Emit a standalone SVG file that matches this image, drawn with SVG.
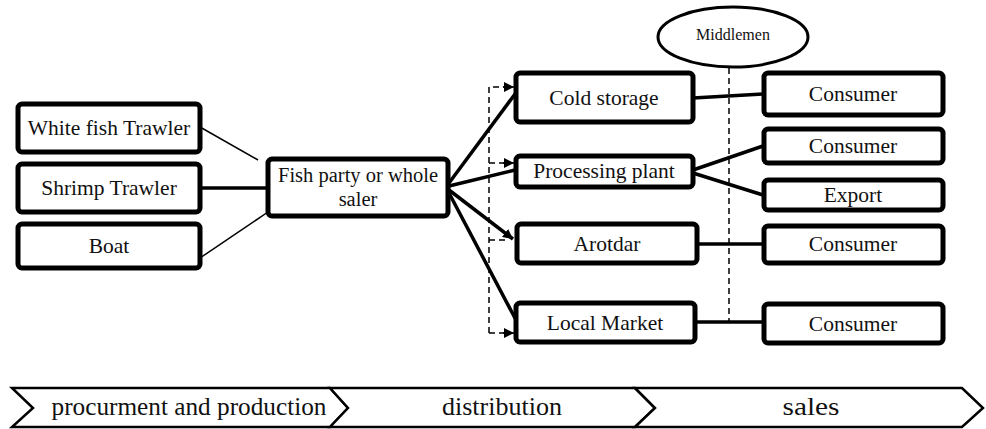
<svg xmlns="http://www.w3.org/2000/svg" width="986" height="429" viewBox="0 0 986 429">
<style>
.box{fill:#fff;stroke:#000;stroke-width:5;}
.t{font-family:"Liberation Serif","Times New Roman",serif;font-size:21.5px;fill:#111;text-anchor:middle;}
.thin{stroke:#000;stroke-width:1.5;fill:none;}
.thick{stroke:#000;stroke-width:3.5;fill:none;}
.dash{stroke:#000;stroke-width:1.5;fill:none;stroke-dasharray:6,4;}
.band{fill:#fff;stroke:#000;stroke-width:2.5;stroke-linejoin:miter;}
.bt{font-family:"Liberation Serif","Times New Roman",serif;font-size:25px;fill:#111;text-anchor:middle;}
</style>
<defs>
<marker id="ah" viewBox="0 0 10 10" refX="10" refY="5" markerWidth="10" markerHeight="10" markerUnits="userSpaceOnUse" orient="auto">
<path d="M0,0 L10,5 L0,10 z" fill="#000"/>
</marker>
</defs>
<rect width="986" height="429" fill="#fff"/>
<g id="connectors">
<line class="thin" x1="200" y1="127" x2="258" y2="160"/>
<line class="thick" x1="200" y1="188" x2="268" y2="188"/>
<line class="thin" x1="200" y1="258" x2="268" y2="212"/>
<line class="thick" x1="449" y1="183" x2="515" y2="94"/>
<line class="thick" x1="449" y1="186" x2="515" y2="170"/>
<line class="thick" x1="449" y1="190" x2="513" y2="239" marker-end="url(#ah)"/>
<line class="thick" x1="449" y1="193" x2="516" y2="320"/>
<path class="dash" d="M489 333 V87 H505"/>
<path class="dash" d="M489 163 H505"/>
<path class="dash" d="M489 240 H505"/>
<path class="dash" d="M489 333 H505"/>
<line x1="503" y1="87" x2="514" y2="87" stroke="#000" stroke-width="1.5" marker-end="url(#ah)"/>
<line x1="503" y1="163" x2="514" y2="163" stroke="#000" stroke-width="1.5" marker-end="url(#ah)"/>
<line x1="503" y1="333" x2="514" y2="333" stroke="#000" stroke-width="1.5" marker-end="url(#ah)"/>
<line class="dash" x1="729" y1="68" x2="729" y2="322"/>
<line class="thick" x1="693" y1="98" x2="763" y2="94"/>
<line class="thick" x1="693" y1="170" x2="763" y2="146"/>
<line class="thick" x1="693" y1="173" x2="763" y2="195"/>
<line class="thick" x1="697" y1="244" x2="763" y2="244"/>
<line class="thick" x1="695" y1="322" x2="763" y2="322"/>
</g>
<g id="white-fish-trawler"><rect class="box" x="18" y="104" width="182" height="48" rx="4"/><text class="t" x="109" y="135">White fish Trawler</text></g>
<g id="shrimp-trawler"><rect class="box" x="18" y="164" width="182" height="48" rx="4"/><text class="t" x="109" y="195">Shrimp Trawler</text></g>
<g id="boat"><rect class="box" x="18" y="224" width="182" height="44" rx="4"/><text class="t" x="109" y="253">Boat</text></g>
<g id="fish-party"><rect class="box" x="268" y="159" width="180" height="57" rx="4"/><text class="t" x="358" y="182" style="font-size:20.5px">Fish party or whole</text><text class="t" x="358" y="206" style="font-size:20.5px">saler</text></g>
<g id="middlemen"><ellipse cx="733" cy="37" rx="75" ry="30" fill="#fff" stroke="#000" stroke-width="3"/><text class="t" x="733" y="40" style="font-size:16px">Middlemen</text></g>
<g id="cold-storage"><rect class="box" x="516" y="73" width="177" height="49" rx="4"/><text class="t" x="604" y="105">Cold storage</text></g>
<g id="processing-plant"><rect class="box" x="516" y="156" width="177" height="31" rx="4"/><text class="t" x="604" y="178">Processing  plant</text></g>
<g id="arotdar"><rect class="box" x="517" y="224" width="180" height="39" rx="4"/><text class="t" x="607" y="251">Arotdar</text></g>
<g id="local-market"><rect class="box" x="516" y="303" width="179" height="39" rx="4"/><text class="t" x="605" y="330">Local Market</text></g>
<g id="consumer-1"><rect class="box" x="764" y="73" width="179" height="42" rx="4"/><text class="t" x="853" y="101">Consumer</text></g>
<g id="consumer-2"><rect class="box" x="764" y="129" width="179" height="34" rx="4"/><text class="t" x="853" y="153">Consumer</text></g>
<g id="export"><rect class="box" x="764" y="180" width="179" height="30" rx="4"/><text class="t" x="853" y="202">Export</text></g>
<g id="consumer-3"><rect class="box" x="764" y="226" width="179" height="37" rx="4"/><text class="t" x="853" y="251">Consumer</text></g>
<g id="consumer-4"><rect class="box" x="764" y="304" width="179" height="39" rx="4"/><text class="t" x="853" y="331">Consumer</text></g>
<g id="stages">
<path class="band" d="M12 388 H330 L348 408 L330 427 H12 L33 408 Z"/>
<path class="band" d="M330 388 H635 L655 408 L635 427 H330 L348 408 Z"/>
<path class="band" d="M635 388 H962 L983 408 L962 427 H635 L655 408 Z"/>
<text class="bt" x="189" y="415" textLength="275" lengthAdjust="spacingAndGlyphs">procurment and production</text>
<text class="bt" x="502" y="415" textLength="120" lengthAdjust="spacingAndGlyphs">distribution</text>
<text class="bt" x="811" y="415" textLength="57" lengthAdjust="spacingAndGlyphs">sales</text>
</g>
</svg>
